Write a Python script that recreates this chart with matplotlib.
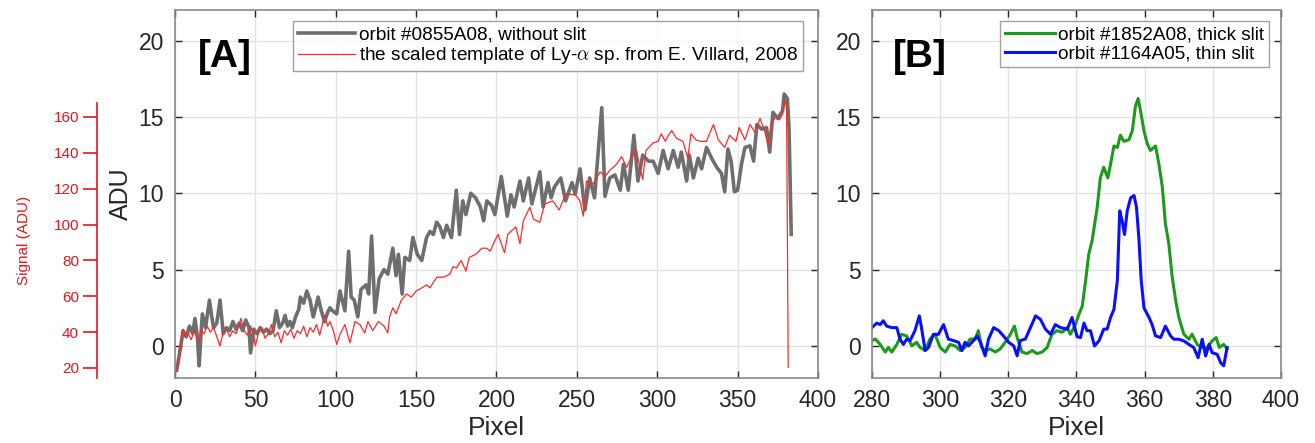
import numpy as np
import matplotlib.pyplot as plt

plt.rcParams['font.family'] = ['Liberation Sans', 'DejaVu Sans']
plt.rcParams['mathtext.fontset'] = 'cm'

## Panel A data (pixel, ADU)
gray_x = [1, 2, 4, 5, 7, 9, 11, 12.4, 14, 15, 16, 17, 19, 21.4, 23, 24, 26, 28, 30, 32, 34, 36, 38, 40,
          42, 44, 46, 47, 49, 51, 53, 55, 57, 59, 61, 63, 65, 67, 68.5, 70, 71.5, 73, 75, 77, 78, 80,
          82, 84, 86, 87.5, 89, 91, 93, 95, 96.4, 98, 100.6, 102.6, 105.7, 108, 109.6, 111.5, 113.7,
          115.7, 118.8, 120.5, 122.3, 124.4, 127, 130, 132.4, 135.5, 137.5, 139, 141.3, 143, 146, 148,
          150.7, 153.5, 156.5, 158.6, 160.7, 162.8, 164.8, 167, 169, 172, 175, 177, 179, 181, 184, 187,
          190, 192, 194, 197, 199, 203, 206.7, 209, 211, 214.6, 216.7, 220, 222, 227, 229, 232, 234,
          236, 240, 243, 247, 249, 252, 255, 258, 261, 265.5, 267.5, 270.5, 273.7, 277, 279, 282,
          285.5, 288, 291, 294.5, 297.5, 300.6, 303.7, 306.8, 310, 313, 315, 318.3, 320, 322.5, 325.5,
          327.6, 330.7, 333.8, 337, 340, 342, 344, 346, 348, 350, 352.6, 354.6, 357.7, 360, 362, 365,
          368, 370, 372, 375, 378, 379, 381, 382, 383.4]
gray_y = [-1.6, -1.0, 0.3, 1.0, 0.6, 1.3, 0.8, 1.8, 0.5, -1.3, 0.5, 2.1, 1.2, 3.0, 1.8, 1.2, 1.5, 3.0,
          0.8, 1.2, 1.0, 1.6, 1.1, 1.5, 1.0, 1.7, 1.2, -0.45, 1.1, 0.8, 1.2, 0.9, 1.1, 0.8, 1.0, 2.3,
          1.2, 1.5, 2.0, 1.3, 1.6, 1.2, 1.9, 2.4, 3.2, 2.8, 3.6, 3.0, 1.9, 2.5, 3.2, 2.3, 1.6, 2.2,
          2.5, 2.3, 2.1, 3.6, 2.3, 6.2, 3.2, 3.0, 1.9, 3.7, 4.0, 3.4, 7.2, 2.2, 4.4, 5.0, 4.7, 6.4,
          4.6, 6.0, 3.4, 5.8, 5.6, 7.1, 6.0, 5.6, 7.1, 7.5, 7.3, 8.1, 7.8, 7.1, 7.9, 7.1, 10.2, 7.3,
          9.5, 8.6, 10.0, 9.7, 9.1, 8.2, 9.5, 9.2, 8.6, 11.1, 8.5, 9.9, 9.1, 10.8, 9.5, 11.0, 9.3,
          11.4, 9.1, 10.7, 9.7, 10.4, 11.0, 9.5, 10.7, 9.95, 11.6, 8.9, 11.0, 9.7, 15.6, 9.8, 11.0,
          11.2, 10.2, 11.9, 10.2, 13.8, 10.8, 12.5, 12.1, 12.1, 11.3, 12.8, 11.6, 12.8, 11.7, 12.7,
          10.8, 12.5, 11.0, 12.3, 11.6, 13.0, 12.3, 11.7, 11.3, 10.1, 12.9, 12.1, 10.1, 10.2, 12.0,
          13.0, 13.1, 12.1, 14.5, 14.2, 14.3, 12.7, 15.3, 14.9, 15.4, 16.5, 16.2, 14.3, 7.3]

red_x = [1, 2, 3, 4, 5, 6, 8, 10, 12, 13, 15, 16, 18, 20, 22, 24, 26, 28, 30, 32, 34, 36, 38, 41, 43,
         45, 47, 49, 50, 52, 54, 56, 58, 60, 62, 64, 66, 68, 70, 72, 74, 76, 78, 80, 82, 84, 86, 88,
         90, 93, 95, 96.4, 98.5, 100.6, 102.6, 105.7, 108.8, 112, 115, 118, 120, 123, 126.5, 130,
         132.4, 133.5, 135.5, 137.5, 140.8, 144, 147, 150, 153.5, 156.5, 158.6, 162.8, 167, 171, 173,
         175, 178, 181, 183, 187, 191, 194, 196, 199, 201, 205, 207, 212, 214.6, 216.7, 220.8, 223,
         227, 230, 235, 239, 243, 249, 251.9, 254, 256, 260, 264.5, 267.5, 270.5, 274.7, 277.8, 281,
         284, 287, 291, 293, 297.5, 300.6, 302.5, 305, 307, 309, 312, 316, 319, 321, 324, 327, 330.7,
         332.5, 335, 338, 342, 345, 349, 351, 354.6, 357.7, 360.8, 364, 367, 369, 371, 374, 376, 378,
         379.6, 380.5, 381.5]
red_y = [-1.6, -1.2, -0.5, 0.55, 1.1, 0.6, 0.9, 0.4, 1.0, 0.7, 0.2, 1.0, 0.8, 1.3, 0.9, 1.2, 0.6, 0.0,
         0.9, 1.1, 0.6, 1.0, 0.8, 1.8, 1.0, 0.7, 1.3, 0.6, 0.0, 0.9, 1.2, 0.5, 0.8, 1.4, 0.6, 0.9, 0.2,
         1.0, 0.7, 1.1, 0.5, 1.0, 0.8, 1.3, 0.6, 1.2, 0.9, 1.4, 0.7, 2.0, 1.3, 1.6, 1.0, 0.1, 0.75,
         1.4, 0.2, 1.6, 1.4, 0.85, 1.6, 1.0, 1.6, 1.3, 0.85, 1.9, 2.5, 2.1, 3.0, 3.4, 3.2, 3.6, 3.8,
         4.0, 3.8, 4.5, 4.5, 4.7, 5.2, 5.1, 5.6, 4.9, 5.8, 6.0, 6.4, 6.4, 6.2, 6.9, 7.3, 6.1, 7.3,
         7.8, 6.7, 8.2, 9.1, 8.3, 8.1, 9.3, 9.5, 8.9, 9.95, 9.9, 9.5, 8.5, 10.8, 10.6, 11.4, 11.1,
         11.5, 11.9, 12.4, 11.7, 12.4, 12.8, 10.9, 12.8, 13.3, 13.4, 13.9, 13.4, 13.8, 14.1, 13.6,
         13.4, 12.3, 13.9, 13.5, 13.4, 13.4, 13.9, 14.5, 13.5, 13.0, 13.8, 13.4, 14.3, 13.5, 14.5,
         14.0, 14.9, 14.0, 13.2, 14.6, 15.0, 14.8, 15.2, 16.1, 15.6, -1.4]

## Panel B data
green_x = [280, 281, 282.4, 283.9, 284.8, 285.8, 287.3, 288.7, 290.2, 291.7, 293.1, 294.1, 295.6,
           297, 298.5, 300, 301.5, 302.9, 304.4, 305.9, 307.3, 308.8, 310.3, 311.2, 312.2, 313.2,
           314.7, 316.2, 317.6, 319.1, 320.6, 321.8, 322.6, 324, 325.5, 327, 328.4, 329.9, 331.4,
           332.8, 334.3, 335.8, 337.3, 338.2, 339.7, 340.6, 341.7, 342.7, 343.6, 344.6, 346.1, 347,
           348, 349.2, 350, 351, 352, 352.9, 353.9, 355.4, 356.4, 357.3, 358.1, 358.8, 359.8, 360.7,
           361.7, 363.2, 364.2, 365.2, 366.1, 367.1, 368.1, 369.1, 370, 371.5, 373, 373.9, 375.4,
           376.9, 378.4, 379.8, 381, 381.9, 383.2, 384.2]
green_y = [0.35, 0.45, 0.1, -0.4, -0.1, -0.4, 0.1, 0.76, 0.65, 0.0, 0.24, -0.1, -0.3, 0.45, 0.76,
           -0.1, -0.4, 0.1, 0.0, -0.3, -0.1, 0.45, 0.45, 1.0, -0.1, -0.3, -0.2, -0.4, -0.2, 0.24,
           0.76, 1.3, 0.55, -0.4, -0.5, -0.3, -0.5, -0.4, -0.1, 0.76, 1.0, 0.9, 1.2, 0.76, 1.4, 2.0,
           2.6, 4.3, 6.0, 6.9, 9.1, 11.0, 11.7, 11.0, 11.9, 13.1, 13.0, 13.8, 13.4, 13.5, 14.1,
           15.7, 16.2, 15.4, 14.1, 13.3, 12.8, 13.1, 11.9, 10.4, 8.0, 6.7, 4.5, 3.0, 1.9, 0.77,
           0.44, 0.77, 0.1, -0.1, -0.1, 0.33, 0.55, -0.1, 0.1, -0.2]

blue_x = [280, 281.4, 282.4, 283.3, 284.3, 285.8, 287.3, 288.2, 289.2, 290.2, 291.2, 292.6, 293.9,
          294.6, 295.6, 296.6, 298, 299.5, 301, 302.4, 303.9, 305.4, 306.4, 307.3, 308.3, 309.8,
          310.8, 311.8, 313.2, 314.2, 315.7, 317.2, 318.6, 320.1, 321.6, 322.6, 323.5, 325, 326.5,
          328, 329.4, 330.9, 332.4, 333.8, 335.3, 337.3, 338.7, 340.2, 341.2, 342.2, 343.1, 344.1,
          345.3, 346.6, 348, 349, 350, 351, 352, 352.7, 353.4, 354.1, 354.9, 355.9, 356.9, 357.6,
          358.3, 359, 359.8, 361.3, 362.2, 363.2, 364.7, 366.1, 367.6, 368.6, 370, 371.5, 373, 374.4,
          375.7, 376.9, 377.9, 378.9, 379.8, 381.3, 382.3, 383.2, 384.2]
blue_y = [1.2, 1.5, 1.4, 1.65, 1.3, 1.2, 1.2, 0.45, 0.1, 0.45, 0.35, 1.0, 1.97, 1.1, -0.3, -0.1,
          0.76, 0.76, 1.4, 0.45, 0.35, 0.24, -0.3, 0.24, 0.0, 0.35, 0.65, 0.24, -0.65, 0.45, 1.2,
          1.0, 0.65, 0.24, 0.0, -0.65, 0.35, 0.45, 1.2, 1.97, 1.75, 1.1, 0.76, 1.4, 1.2, 1.1, 1.86,
          0.6, 0.55, 1.5, 1.0, 1.0, 0.0, 0.33, 1.1, 1.1, 1.86, 2.4, 4.3, 8.85, 8.2, 7.3, 8.85, 9.7,
          9.85, 9.1, 7.1, 4.3, 2.5, 1.86, 1.4, 0.66, 0.55, 1.3, 0.66, 0.44, 0.44, 0.33, 0.1, -0.1,
          -0.77, 0.44, -0.66, 0.1, -0.44, -0.55, -1.1, -1.3, -0.1]

signal_ticks = [20, 40, 60, 80, 100, 120, 140, 160]

fig = plt.figure(figsize=(13.15, 4.43), dpi=100)
axA = fig.add_axes([0.1331, 0.1467, 0.4889, 0.8307])
axB = fig.add_axes([0.6631, 0.1467, 0.3110, 0.8307])
axS = fig.add_axes([0.0738, 0.1467, 0.001, 0.6208])

tick_col = '#262626'
for ax in (axA, axB):
    ax.grid(True, color='#e3e3e3', linewidth=1.0)
    ax.set_axisbelow(True)
    ax.tick_params(direction='in', top=True, right=True, labelsize=16.5, colors=tick_col,
                   length=5, width=1, pad=8)
    for sp in ax.spines.values():
        sp.set_color('#8a8a8a')
        sp.set_linewidth(1.2)
    ax.set_ylim(-2.1, 22)
    ax.set_yticks([0, 5, 10, 15, 20])
    ax.set_xlabel('Pixel', fontsize=19, color=tick_col, labelpad=3)

axA.plot(gray_x, gray_y, color='#6e6e6e', lw=2.6, label='orbit #0855A08, without slit')
axA.plot(red_x, red_y, color='#ff2a2a', lw=0.9, label=r'the scaled template of Ly-$\alpha$ sp. from E. Villard, 2008')
axA.set_xlim(0, 400)
axA.set_xticks(range(0, 401, 50))
axA.set_ylabel('ADU', fontsize=18, color=tick_col, labelpad=4)
axA.text(0.035, 0.92, '[A]', transform=axA.transAxes, fontsize=28, fontweight='bold',
         va='top', ha='left')
legA = axA.legend(loc='upper right', bbox_to_anchor=(0.985, 0.985), fontsize=13.7, handlelength=3.0,
                  fancybox=False, edgecolor='#8a8a8a', borderpad=0.25, labelspacing=0.1,
                  handletextpad=0.2, borderaxespad=0.3)
legA.get_frame().set_linewidth(1.0)

axB.plot(green_x, green_y, color='#1c9a1c', lw=2.2, label='orbit #1852A08, thick slit')
axB.plot(blue_x, blue_y, color='#0a10ff', lw=2.2, label='orbit #1164A05, thin slit')
axB.set_xlim(280, 400)
axB.set_xticks(range(280, 401, 20))
axB.text(0.05, 0.92, '[B]', transform=axB.transAxes, fontsize=28, fontweight='bold',
         va='top', ha='left')
legB = axB.legend(loc='upper right', bbox_to_anchor=(0.985, 0.985), fontsize=13.7, handlelength=2.6,
                  fancybox=False, edgecolor='#8a8a8a', borderpad=0.25, labelspacing=0.1,
                  handletextpad=0.2, borderaxespad=0.3)
legB.get_frame().set_linewidth(1.0)

## separate red "Signal (ADU)" scale on the far left
red = '#e8141e'
axS.set_ylim(14.4, 167.8)
axS.set_yticks(signal_ticks)
axS.set_xticks([])
for k in ('top', 'right', 'bottom'):
    axS.spines[k].set_visible(False)
axS.spines['left'].set_color(red)
axS.spines['left'].set_linewidth(1.2)
axS.patch.set_alpha(0)
axS.tick_params(axis='y', direction='out', colors=red, labelsize=11, length=10, width=1.2, pad=3)
axS.set_ylabel('Signal (ADU)', color=red, fontsize=11, labelpad=16)

fig.savefig('out.png', dpi=100)
